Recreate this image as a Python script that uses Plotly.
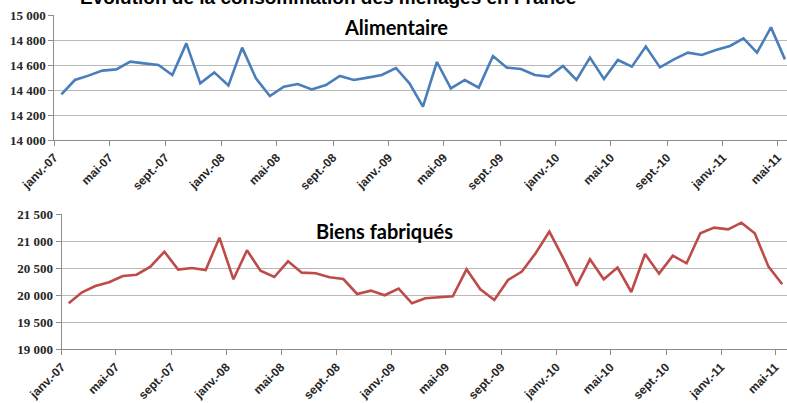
import pandas as pd
import plotly.graph_objects as go

months = pd.date_range("2007-01-01", periods=53, freq="MS")

alimentaire = [14365, 14480, 14515, 14555, 14565, 14627, 14613, 14600, 14520, 14773,
               14453, 14541, 14437, 14739, 14493, 14352, 14427, 14448, 14405, 14440,
               14512, 14480, 14499, 14520, 14576, 14453, 14267, 14624, 14413, 14480,
               14419, 14672, 14579, 14568, 14520, 14507, 14592, 14480, 14659, 14488,
               14640, 14587, 14747, 14581, 14645, 14699, 14680, 14720, 14752, 14813,
               14699, 14901, 14645]

biens = [19850, 20053, 20170, 20238, 20355, 20379, 20527, 20804, 20472, 20503,
         20466, 21063, 20293, 20829, 20453, 20336, 20626, 20416, 20404, 20330,
         20299, 20022, 20084, 19998, 20121, 19850, 19942, 19961, 19979, 20478,
         20108, 19911, 20281, 20435, 20774, 21174, 20681, 20176, 20663, 20293,
         20509, 20059, 20761, 20398, 20730, 20589, 21143, 21248, 21217, 21340,
         21143, 20527, 20201]

tick_dates = pd.date_range("2007-01-01", "2011-05-01", freq="4MS")
tick_labels = ["janv.-07", "mai-07", "sept.-07", "janv.-08", "mai-08", "sept.-08",
               "janv.-09", "mai-09", "sept.-09", "janv.-10", "mai-10", "sept.-10",
               "janv.-11", "mai-11"]

title_text = "Evolution de la consommation des ménages en France"
panel1 = "Alimentaire"
panel2 = "Biens fabriqués"

W, H = 787, 403
fig = go.Figure()
fig.add_trace(go.Scatter(x=months, y=alimentaire, mode="lines", xperiod="M1",
                         xperiodalignment="middle",
                         line=dict(color="#4a7ebb", width=2.6), xaxis="x", yaxis="y",
                         showlegend=False))
fig.add_trace(go.Scatter(x=months, y=biens, mode="lines", xperiod="M1",
                         xperiodalignment="middle",
                         line=dict(color="#be4b48", width=2.6), xaxis="x2", yaxis="y2",
                         showlegend=False))

grid = "#b8b8b8"
axcol = "#8c8c8c"
xtick_font = dict(family="Liberation Sans, Arial", size=12, color="#262626", weight="bold")
ytick_font = dict(family="Liberation Serif, Times New Roman", size=13, color="#262626",
                  weight="bold")

common_x = dict(type="date", showgrid=False, showline=True, linecolor=axcol, linewidth=1,
                ticks="outside", ticklen=5, tickcolor=axcol, tickvals=tick_dates,
                ticktext=tick_labels, tickangle=-45, tickfont=xtick_font,
                automargin=False, zeroline=False, fixedrange=True)
common_y = dict(showgrid=True, gridcolor=grid, gridwidth=1, showline=True, linecolor=axcol,
                ticks="outside", ticklen=5, tickcolor=axcol, tickfont=ytick_font,
                tickformat=",", automargin=False, zeroline=False)

fig.update_layout(
    width=W, height=H, autosize=False,
    margin=dict(l=0, r=0, t=0, b=0),
    paper_bgcolor="white", plot_bgcolor="white",
    separators=", ",
    xaxis=dict(common_x, domain=[54.3 / W, 1], range=["2007-01-01", "2011-05-21"],
               anchor="y"),
    yaxis=dict(common_y, domain=[1 - 140 / H, 1 - 15 / H], range=[14000, 15000],
               dtick=200, anchor="x"),
    xaxis2=dict(common_x, domain=[61.7 / W, 1], range=["2007-01-01", "2011-05-27"],
                anchor="y2"),
    yaxis2=dict(common_y, domain=[1 - 349.3 / H, 1 - 214 / H], range=[19000, 21500],
                dtick=500, anchor="x2"),
    annotations=[
        dict(text="<b>" + title_text + "</b>", xref="paper", yref="paper",
             x=328 / W, y=1 + 3 / H, xanchor="center", yanchor="middle",
             showarrow=False, font=dict(family="Liberation Sans, Arial", size=19,
                                        color="#000000")),
        dict(text="<b>" + panel1 + "</b>", xref="paper", yref="paper",
             x=396 / W, y=1 - 27 / H, xanchor="center", yanchor="middle",
             showarrow=False, font=dict(family="Lato, Open Sans", size=20,
                                        color="#000000")),
        dict(text="<b>" + panel2 + "</b>", xref="paper", yref="paper",
             x=384 / W, y=1 - 231 / H, xanchor="center", yanchor="middle",
             showarrow=False, font=dict(family="Lato, Open Sans", size=20,
                                        color="#000000")),
    ],
)

fig.write_html("out.html", config={"displayModeBar": False},
               post_script="document.body.style.margin='0';")
